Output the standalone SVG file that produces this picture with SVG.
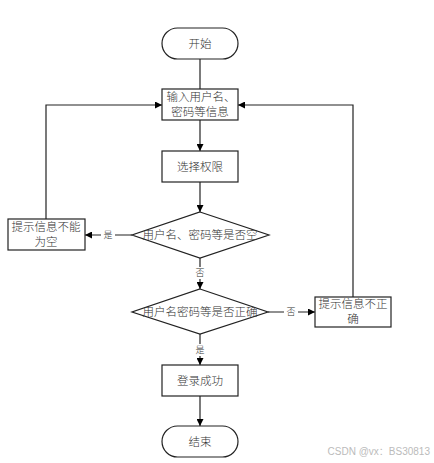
<svg xmlns="http://www.w3.org/2000/svg" width="434" height="463" viewBox="0 0 434 463">
<defs>
<marker id="arr" viewBox="0 0 10 10" refX="10" refY="5" markerWidth="7" markerHeight="7" markerUnits="userSpaceOnUse" orient="auto">
<path d="M0,0 L10,5 L0,10 z" fill="#000"/>
</marker>
<style>
.s{fill:#fff;stroke:#222;stroke-width:1.2}
.c{fill:none;stroke:#222;stroke-width:1.2;marker-end:url(#arr)}
.n{fill:none;stroke:#222;stroke-width:1.2}
text{font-family:"Liberation Serif","Noto Sans CJK SC",serif;font-size:11.5px;font-weight:300;fill:#333;text-anchor:middle;dominant-baseline:central}
.l{font-size:9px}
.w{font-family:"Liberation Sans","Noto Sans CJK SC",sans-serif;font-size:10px;fill:#bbb;text-anchor:end}
</style>
</defs>
<rect width="434" height="463" fill="#fff"/>
<g id="connectors">
<line class="n" x1="200" y1="59" x2="200" y2="89"/>
<line class="c" x1="200" y1="120" x2="200" y2="151"/>
<line class="c" x1="200" y1="182" x2="200" y2="212"/>
<line class="c" x1="132" y1="235" x2="85" y2="235"/>
<polyline class="c" points="46,219 46,105 162,105"/>
<line class="c" x1="200" y1="258" x2="200" y2="289"/>
<line class="c" x1="268" y1="312" x2="315" y2="312"/>
<polyline class="c" points="353,297 353,105 238,105"/>
<line class="c" x1="200" y1="334" x2="200" y2="365"/>
<line class="c" x1="200" y1="396" x2="200" y2="426"/>
<rect x="101" y="229" width="14" height="12" fill="#fff"/>
<text class="l" x="108" y="235">是</text>
<rect x="193" y="267" width="14" height="12" fill="#fff"/>
<text class="l" x="200" y="273">否</text>
<rect x="284" y="306" width="14" height="12" fill="#fff"/>
<text class="l" x="291" y="312">否</text>
<rect x="193" y="344" width="14" height="12" fill="#fff"/>
<text class="l" x="200" y="350">是</text>
</g>
<g id="start">
<rect class="s" x="162" y="28" width="76" height="31" rx="15.5"/>
<text x="200" y="43.5">开始</text>
</g>
<g id="input">
<rect class="s" x="162" y="89" width="76" height="31"/>
<text x="201" y="97">输入用户名、</text>
<text x="200" y="112">密码等信息</text>
</g>
<g id="select">
<rect class="s" x="162" y="151" width="76" height="31"/>
<text x="200" y="166.5">选择权限</text>
</g>
<g id="check-empty">
<polygon class="s" points="200,212 269,235 200,258 132,235"/>
<text x="200" y="235">用户名、密码等是否空</text>
</g>
<g id="empty-msg">
<rect class="s" x="8" y="219" width="77" height="31"/>
<text x="46" y="227">提示信息不能</text>
<text x="46" y="242">为空</text>
</g>
<g id="check-correct">
<polygon class="s" points="200,289 268,312 200,334 132,312"/>
<text x="200" y="312">用户名密码等是否正确</text>
</g>
<g id="wrong-msg">
<rect class="s" x="315" y="297" width="76" height="30"/>
<text x="353" y="304">提示信息不正</text>
<text x="353" y="319">确</text>
</g>
<g id="success">
<rect class="s" x="162" y="365" width="76" height="31"/>
<text x="200" y="380.5">登录成功</text>
</g>
<g id="end">
<rect class="s" x="162" y="426" width="76" height="31" rx="15.5"/>
<text x="200" y="441.5">结束</text>
</g>
<text class="w" x="430" y="451">CSDN @vx：BS30813</text>
</svg>
